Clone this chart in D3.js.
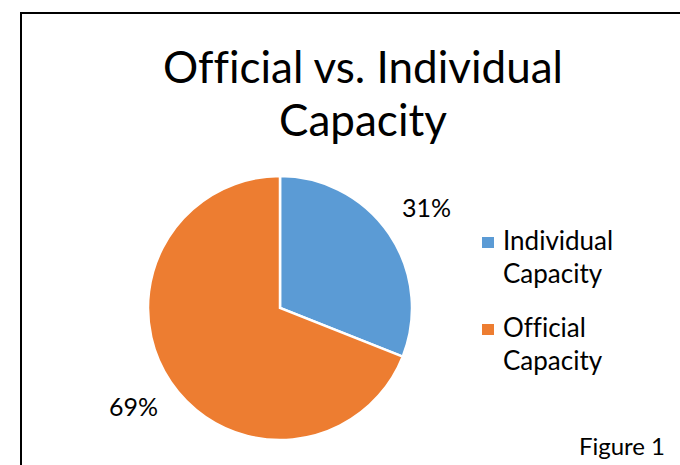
<!DOCTYPE html>
<html>
<head>
<meta charset="utf-8">
<script src="https://cdnjs.cloudflare.com/ajax/libs/d3/7.8.5/d3.min.js"></script>
<style>
  body { margin: 0; background: #fff; }
  svg { display: block; font-family: Lato, "Open Sans", sans-serif; font-variant-ligatures: none; }
</style>
</head>
<body>
<svg id="chart" width="680" height="465"></svg>
<script>
var categories = ["Individual Capacity", "Official Capacity"];
var legendLines = [["Individual", "Capacity"], ["Official", "Capacity"]];
var values = [31, 69];
var colors = ["#5b9bd5", "#ed7d31"];
var titleLines = ["Official vs. Individual", "Capacity"];

var svg = d3.select("#chart");

// frame (only left and top edges are visible in the crop)
svg.append("path")
  .attr("d", "M21,465V13H680")
  .attr("fill", "none")
  .attr("stroke", "#000")
  .attr("stroke-width", 2);

svg.append("g")
  .selectAll("text")
  .data(titleLines)
  .enter().append("text")
  .attr("x", 363)
  .attr("y", function(d, i) { return 83 + i * 53; })
  .attr("text-anchor", "middle")
  .attr("font-size", 44)
  .attr("fill", "#000")
  .text(function(d) { return d; });

var cx = 280, cy = 308, r = 132;

var pie = d3.pie().sort(null).value(function(d) { return d; });
var arc = d3.arc().innerRadius(0).outerRadius(r);
var arcs = pie(values);

var g = svg.append("g").attr("transform", "translate(" + cx + "," + cy + ")");

g.selectAll("path")
  .data(arcs)
  .enter().append("path")
  .attr("d", arc)
  .attr("fill", function(d, i) { return colors[i]; })
  .attr("stroke", "#fff")
  .attr("stroke-width", 2.5);

var labelArc = d3.arc().innerRadius(r + 45).outerRadius(r + 45);
g.selectAll(".lbl")
  .data(arcs)
  .enter().append("text")
  .attr("class", "lbl")
  .attr("transform", function(d, i) {
    var c = labelArc.centroid(d);
    return "translate(" + c[0] + "," + c[1] + ")";
  })
  .attr("text-anchor", "middle")
  .attr("dy", "0.35em")
  .attr("font-size", 25)
  .text(function(d) { return d.data + "%"; });

var legend = svg.append("g")
  .selectAll("g")
  .data(categories)
  .enter().append("g")
  .attr("transform", function(d, i) { return "translate(482," + (237 + i * 87) + ")"; });

legend.append("rect")
  .attr("width", 12)
  .attr("height", 11)
  .attr("fill", function(d, i) { return colors[i]; });

legend.each(function(d, i) {
  d3.select(this).selectAll("text")
    .data(legendLines[i])
    .enter().append("text")
    .attr("x", 21)
    .attr("y", function(t, j) { return 13 + j * 33; })
    .attr("font-size", 26)
    .text(function(t) { return t; });
});

svg.append("text")
  .attr("x", 665)
  .attr("y", 455)
  .attr("text-anchor", "end")
  .attr("font-size", 24)
  .text("Figure 1");
</script>
</body>
</html>
